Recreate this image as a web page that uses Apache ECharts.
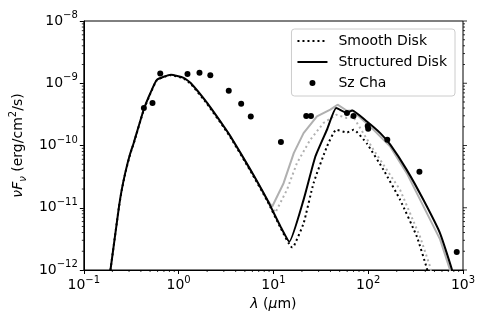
<!DOCTYPE html>
<html lang="en">
<head>
<meta charset="utf-8">
<title>SED</title>
<script src="https://cdn.jsdelivr.net/npm/echarts@6/dist/echarts.min.js"></script>
</head>
<body style="margin:0">
<div id="main" style="width:491px;height:327px;"></div>
<script type="text/javascript">
// wavelength (micron) and nuF_nu (erg/cm2/s)
let structLam = [0.185, 0.191, 0.235, 0.251, 0.275, 0.308, 0.336, 0.428, 0.504, 0.591, 0.83, 1.13, 1.34, 2.0, 3.0, 3.53, 5.73, 8.6, 11.9, 14.7, 20.8, 27.7, 36.7, 46.0, 59.7, 67.9, 96.9, 134, 171, 255, 382, 573, 766, 804];
let structF = [6.9e-13, 1.0e-12, 1.04e-11, 1.94e-11, 3.77e-11, 7.35e-11, 1.10e-10, 3.76e-10, 6.98e-10, 1.14e-9, 1.37e-9, 1.22e-9, 1.01e-9, 4.82e-10, 2.02e-10, 1.40e-10, 4.06e-11, 1.34e-11, 4.97e-12, 2.85e-12, 1.34e-11, 6.65e-11, 1.79e-10, 4.0e-10, 3.32e-10, 3.66e-10, 2.43e-10, 1.58e-10, 1.03e-10, 4.06e-11, 1.34e-11, 3.88e-12, 1.0e-12, 6.4e-13];

let smoothLam = [0.185, 0.191, 0.235, 0.251, 0.275, 0.308, 0.336, 0.428, 0.504, 0.591, 0.83, 1.13, 1.34, 2.0, 3.0, 3.53, 5.73, 8.6, 11.9, 15.7, 16.3, 20.8, 26.5, 36.7, 46.0, 59.7, 70, 96.9, 145, 217, 326, 415, 434];
let smoothF = [6.9e-13, 1.0e-12, 1.04e-11, 1.9e-11, 3.7e-11, 7.2e-11, 1.08e-10, 3.7e-10, 6.85e-10, 1.12e-9, 1.35e-9, 1.19e-9, 0.98e-9, 4.65e-10, 1.95e-10, 1.35e-10, 3.9e-11, 1.3e-11, 4.73e-12, 2.31e-12, 2.35e-12, 5.6e-12, 2.48e-11, 9.6e-11, 1.79e-10, 1.62e-10, 1.79e-10, 1.07e-10, 4.06e-11, 1.34e-11, 3.43e-12, 1.07e-12, 8e-13];

let graySolidLam = [2.0, 3.0, 3.53, 5.73, 8.6, 9.69, 12.8, 16.4, 20.8, 28.8, 39.8, 47.5, 59.7, 67.9, 114, 171, 255, 573, 730, 766];
let graySolidF = [4.82e-10, 2.02e-10, 1.40e-10, 4.06e-11, 1.34e-11, 1.04e-11, 2.48e-11, 7.55e-11, 1.58e-10, 2.93e-10, 3.76e-10, 4.52e-10, 3.62e-10, 3.66e-10, 1.79e-10, 9.6e-11, 3.6e-11, 3.1e-12, 1.0e-12, 6.9e-13];

let grayDotLam = [2.0, 3.0, 3.53, 5.73, 8.6, 10.5, 13.9, 17.7, 24.5, 33.8, 46.0, 59.7, 69.5, 114, 217, 352, 450, 472];
let grayDotF = [4.65e-10, 1.95e-10, 1.35e-10, 3.9e-11, 1.3e-11, 8.4e-12, 1.94e-11, 5.21e-11, 1.24e-10, 2.3e-10, 3.12e-10, 2.76e-10, 2.9e-10, 8.5e-11, 1.94e-11, 3.43e-12, 1.13e-12, 8e-13];

let obsLam = [0.43, 0.53, 0.64, 1.24, 1.66, 2.16, 3.38, 4.57, 5.77, 12.0, 22.2, 24.9, 59.7, 70, 98.8, 100, 159, 347, 859];
let obsF = [4.0e-10, 4.8e-10, 1.43e-9, 1.41e-9, 1.47e-9, 1.34e-9, 7.6e-10, 4.7e-10, 2.93e-10, 1.14e-10, 2.97e-10, 2.97e-10, 3.32e-10, 2.97e-10, 2.05e-10, 1.85e-10, 1.24e-10, 3.77e-11, 1.94e-12];

let xTickExp = ['−1', '0', '1', '2', '3'];
let yTickExp = ['−12', '−11', '−10', '−9', '−8'];

let font = 'DejaVu Sans';

function pairs(xs, ys) {
    return xs.map((x, i) => [x, ys[i]]);
}

// minor ticks (2..9 x decade) drawn through the axes with a custom series
let tickData = [];
for (let e = -1; e < 3; e++) {
    for (let m = 2; m < 10; m++) tickData.push([m * Math.pow(10, e), 1e-12, 0]);
}
for (let e = -12; e < -8; e++) {
    for (let m = 2; m < 10; m++) {
        tickData.push([0.1, m * Math.pow(10, e), 1]);
        tickData.push([1000, m * Math.pow(10, e), 2]);
    }
}
for (let e = -12; e <= -8; e++) tickData.push([1000, Math.pow(10, e), 3]);

let labelRich = {
    b: {fontSize: 14, fontFamily: font, color: '#000', lineHeight: 21},
    s: {fontSize: 10, fontFamily: font, color: '#000', lineHeight: 10, verticalAlign: 'top'}
};

let myChart = echarts.init(document.getElementById('main'));

let options = {
    animation: false,
    grid: {left: 83, right: 28, top: 21, bottom: 57, show: true, borderColor: '#000', borderWidth: 1},
    legend: {
        data: [
            {name: 'Smooth Disk', itemStyle: {opacity: 0}},
            {name: 'Structured Disk', itemStyle: {opacity: 0}},
            {name: 'Sz Cha'}
        ],
        orient: 'vertical', right: 36, top: 29,
        itemWidth: 30, itemHeight: 6, itemGap: 7,
        padding: [5, 8, 6, 5],
        backgroundColor: '#fff', borderColor: '#ccc', borderWidth: 1, borderRadius: 3,
        textStyle: {fontSize: 14, fontFamily: font, color: '#000', padding: [0, 0, 0, 6]}
    },
    xAxis: {
        type: 'log', logBase: 10, min: 0.1, max: 1000,
        axisLine: {lineStyle: {color: '#000', width: 1}},
        axisTick: {length: 4, lineStyle: {color: '#000'}},
        splitLine: {show: false},
        axisLabel: {
            margin: 5,
            formatter: v => '{b|10}{s|' + xTickExp[Math.round(Math.log10(v)) + 1] + '}',
            rich: labelRich
        },
        name: '{i|λ}{n| (}{i|μ}{n|m)}',
        nameLocation: 'middle', nameGap: 22,
        nameTextStyle: {
            fontSize: 14, fontFamily: font, color: '#000',
            rich: {
                i: {fontSize: 14, fontFamily: font, fontStyle: 'italic', color: '#000'},
                n: {fontSize: 14, fontFamily: font, color: '#000'}
            }
        }
    },
    yAxis: [{
        type: 'log', logBase: 10, min: 1e-12, max: 1e-8,
        axisLine: {lineStyle: {color: '#000', width: 1}},
        axisTick: {length: 4, lineStyle: {color: '#000'}},
        splitLine: {show: false},
        axisLabel: {
            margin: 6,
            formatter: v => '{b|10}{s|' + yTickExp[Math.round(Math.log10(v)) + 12] + '}',
            rich: labelRich
        },
        name: '{i|νF}{sub|ν}{n| (erg/cm}{sup|2}{n|/s)}',
        nameLocation: 'middle', nameGap: 48,
        nameTextStyle: {
            fontSize: 14, fontFamily: font, color: '#000',
            rich: {
                i: {fontSize: 14, fontFamily: font, fontStyle: 'italic', color: '#000', lineHeight: 20},
                n: {fontSize: 14, fontFamily: font, color: '#000', lineHeight: 20},
                sub: {fontSize: 10, fontFamily: font, fontStyle: 'italic', color: '#000', lineHeight: 10, verticalAlign: 'bottom'},
                sup: {fontSize: 10, fontFamily: font, color: '#000', lineHeight: 10, verticalAlign: 'top'}
            }
        }
    }],
    series: [
        {
            name: 'gray smooth', type: 'line', symbol: 'none', z: 1,
            lineStyle: {color: '#b0b0b0', width: 2, type: [2, 3]},
            data: pairs(grayDotLam, grayDotF)
        },
        {
            name: 'gray structured', type: 'line', symbol: 'none', z: 1,
            lineStyle: {color: '#b0b0b0', width: 2},
            data: pairs(graySolidLam, graySolidF)
        },
        {
            name: 'Smooth Disk', type: 'line', symbol: 'none', z: 2, smooth: 0.15,
            color: '#000',
            lineStyle: {color: '#000', width: 2, type: [2, 3]},
            data: pairs(smoothLam, smoothF)
        },
        {
            name: 'Structured Disk', type: 'line', symbol: 'none', z: 3, smooth: 0.15,
            color: '#000',
            lineStyle: {color: '#000', width: 2},
            data: pairs(structLam, structF)
        },
        {
            name: 'Sz Cha', type: 'scatter', symbol: 'circle', symbolSize: 6, z: 4,
            itemStyle: {color: '#000', opacity: 1},
            data: pairs(obsLam, obsF)
        },
        {
            name: 'ticks', type: 'custom', silent: true, clip: false, z: 5,
            encode: {x: 0, y: 1},
            data: tickData,
            renderItem: function (params, api) {
                let p = api.coord([api.value(0), api.value(1)]);
                let k = api.value(2);
                let shape;
                if (k === 0) shape = {x1: p[0], y1: p[1], x2: p[0], y2: p[1] + 2};
                else if (k === 1) shape = {x1: p[0], y1: p[1], x2: p[0] - 2, y2: p[1]};
                else if (k === 2) shape = {x1: p[0], y1: p[1], x2: p[0] + 2, y2: p[1]};
                else shape = {x1: p[0], y1: p[1], x2: p[0] + 4, y2: p[1]};
                return {type: 'line', shape: shape, style: {stroke: '#000', lineWidth: 0.8}};
            }
        }
    ]
};

myChart.setOption(options);
</script>
</body>
</html>
